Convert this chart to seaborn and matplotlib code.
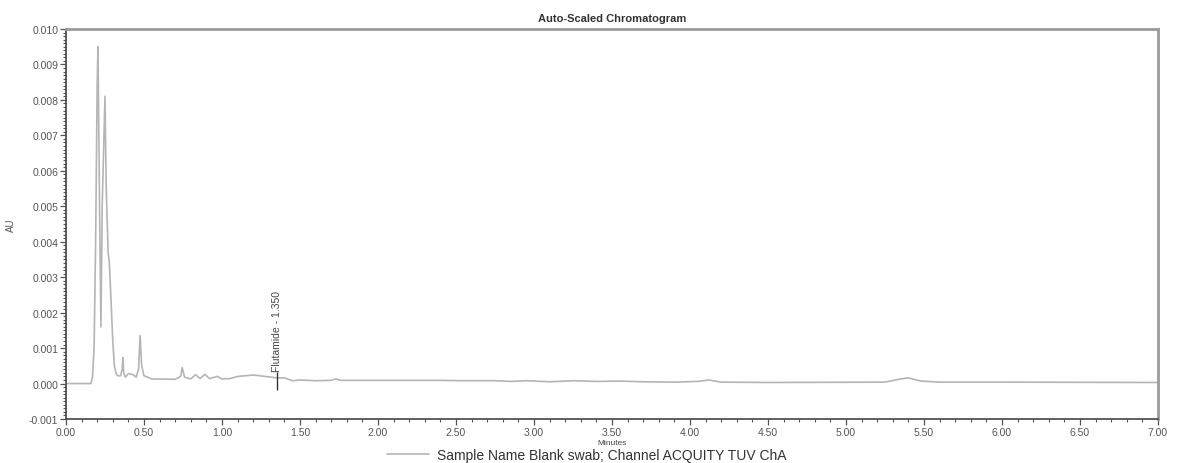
import matplotlib
matplotlib.use("Agg")
import matplotlib.pyplot as plt
from matplotlib.ticker import MultipleLocator, FormatStrFormatter
import seaborn as sns
import pandas as pd

# ---- data ----
time_min = [0.00, 0.10, 0.16, 0.17, 0.18, 0.19, 0.20, 0.205, 0.215, 0.224,
            0.232, 0.250, 0.258, 0.270, 0.278, 0.29, 0.30, 0.31, 0.32, 0.33,
            0.35, 0.36, 0.365, 0.37, 0.38, 0.40, 0.43, 0.45, 0.465, 0.475,
            0.485, 0.50, 0.55, 0.70, 0.735, 0.745, 0.76, 0.80, 0.83, 0.86,
            0.89, 0.92, 0.97, 1.00, 1.05, 1.10, 1.20, 1.28, 1.35, 1.40,
            1.45, 1.50, 1.60, 1.70, 1.73, 1.76, 2.00, 2.40, 2.55, 2.75,
            2.85, 2.95, 3.10, 3.25, 3.40, 3.55, 3.70, 3.90, 4.05, 4.12,
            4.20, 4.50, 5.25, 5.35, 5.40, 5.48, 5.60, 6.00, 7.00]
absorbance = [0.0, 0.0, 0.0, 0.0002, 0.0010, 0.0040, 0.0085, 0.0095, 0.0050, 0.0016,
              0.0050, 0.0081, 0.0055, 0.0037, 0.0034, 0.0022, 0.0012, 0.0005, 0.0003, 0.00022,
              0.00022, 0.0004, 0.00073, 0.0003, 0.00018, 0.00028, 0.00025, 0.00018, 0.0004, 0.00135,
              0.0005, 0.00022, 0.00013, 0.00012, 0.0002, 0.00045, 0.00018, 0.00013, 0.00025, 0.00014,
              0.00026, 0.00014, 0.00020, 0.00013, 0.00014, 0.00020, 0.00024, 0.00020, 0.00016, 0.00016,
              0.00008, 0.00010, 0.00008, 0.00009, 0.00013, 0.00009, 0.00009, 0.00009, 0.00008, 0.00008,
              0.00006, 0.00008, 0.00005, 0.00008, 0.00006, 0.00007, 0.00005, 0.00004, 0.00006, 0.00010,
              0.00004, 0.00003, 0.00004, 0.00013, 0.00016, 0.00007, 0.00004, 0.00004, 0.00003]

peak_name = "Flutamide"
peak_time = 1.350
series_label = "Sample Name Blank swab; Channel ACQUITY TUV ChA"
x_ticks = [0.0, 0.5, 1.0, 1.5, 2.0, 2.5, 3.0, 3.5, 4.0, 4.5, 5.0, 5.5, 6.0, 6.5, 7.0]

df = pd.DataFrame({"Minutes": time_min, "AU": absorbance})

sns.set_style("ticks")
plt.rcParams["font.family"] = ["Liberation Sans", "DejaVu Sans"]

fig = plt.figure(figsize=(11.78, 4.64), dpi=100)
ax = fig.add_axes([66 / 1178, 44 / 464, (1158 - 66) / 1178, (420 - 30) / 464])

sns.lineplot(data=df, x="Minutes", y="AU", ax=ax, color="#b5b5b5", linewidth=1.2,
             label=series_label, legend=False)

ax.set_xlim(0, 7.0)
ax.set_ylim(-0.001, 0.010)
ax.set_xticks(x_ticks)
ax.xaxis.set_major_formatter(FormatStrFormatter("%.2f"))
ax.xaxis.set_minor_locator(MultipleLocator(0.1))
ax.yaxis.set_major_locator(MultipleLocator(0.001))
ax.yaxis.set_major_formatter(FormatStrFormatter("%.3f"))
ax.yaxis.set_minor_locator(MultipleLocator(0.0001))

ax.tick_params(axis="both", which="major", labelsize=7.5, colors="#555555",
               length=4, width=0.9, direction="out", pad=1.5)
ax.tick_params(axis="both", which="minor", length=2.5, width=0.8, color="#555555",
               direction="out")

for side in ("left", "bottom"):
    ax.spines[side].set_color("#444444")
    ax.spines[side].set_linewidth(1.2)
for side in ("top", "right"):
    ax.spines[side].set_color("#9a9a9a")
    ax.spines[side].set_linewidth(2.0)

ax.set_title("Auto-Scaled Chromatogram", fontsize=8, fontweight="bold",
             color="#333333", pad=6)
ax.set_xlabel("Minutes", fontsize=6, color="#444444")
ax.xaxis.set_label_coords(0.5, -0.052)
ax.set_ylabel("AU", fontsize=7, color="#555555")
ax.yaxis.set_label_coords(-0.046, 0.5)

# peak marker
ax.vlines(peak_time, -0.00018, 0.00032, color="#333333", linewidth=1.0)
ax.text(peak_time, 0.00034, f"{peak_name} - {peak_time:.3f}", rotation=90,
        ha="center", va="bottom", fontsize=7.5, color="#444444")

handles, labels = ax.get_legend_handles_labels()
fig.legend(handles, labels, loc="center", bbox_to_anchor=(587 / 1178, 1 - 456 / 464),
           frameon=False, fontsize=10, handlelength=3.0, handletextpad=0.6,
           borderpad=0.1, labelcolor="#333333")

fig.savefig("out.png", dpi=100)
